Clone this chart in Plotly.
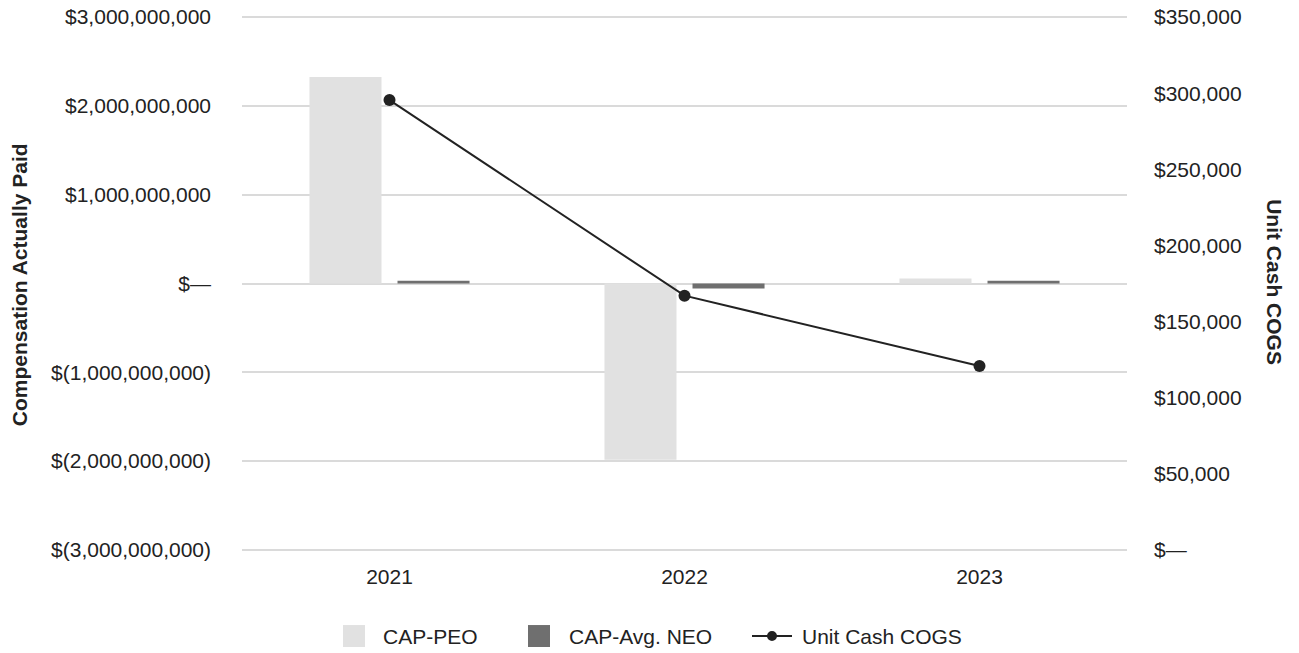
import plotly.graph_objects as go

# Fiscal years and series values
years = ["2021", "2022", "2023"]
cap_peo = [2.325e9, -1.985e9, 0.055e9]
cap_avg_neo = [0.03e9, -0.055e9, 0.03e9]
unit_cash_cogs = [295500, 167000, 120800]

left_ticks = [3e9, 2e9, 1e9, 0, -1e9, -2e9, -3e9]
left_labels = ["$3,000,000,000", "$2,000,000,000", "$1,000,000,000", "$\u2014",
               "$(1,000,000,000)", "$(2,000,000,000)", "$(3,000,000,000)"]
right_ticks = [350000, 300000, 250000, 200000, 150000, 100000, 50000, 0]
right_labels = ["$350,000", "$300,000", "$250,000", "$200,000", "$150,000",
                "$100,000", "$50,000", "$\u2014"]

PEO_COLOR = "#e1e1e1"
NEO_COLOR = "#6f6f6f"
LINE_COLOR = "#222222"
GRID_COLOR = "#dadada"
TEXT_COLOR = "#222222"
FONT = "Liberation Sans, Arial, Helvetica, sans-serif"
TICK_SIZE = 21
TITLE_SIZE = 21

W, H = 1299, 653
# plot area edges (pixels); the value ranges are padded slightly so that the
# outermost gridlines are drawn inside the plotting area
X0, X1, Y0, Y1 = 242, 1127, 16.8, 549.8
PAD = 0.004
span = Y1 - Y0
T = Y0 - PAD * span
B = H - (Y1 + PAD * span)
L, R = X0, W - X1
PW, PH = W - L - R, H - T - B


def px(x):
    return (x - L) / PW


def py(y):
    return (H - B - y) / PH


fig = go.Figure()
fig.add_trace(go.Bar(x=years, y=cap_peo, name="CAP-PEO", marker_color=PEO_COLOR,
                     marker_line_width=0))
fig.add_trace(go.Bar(x=years, y=cap_avg_neo, name="CAP-Avg. NEO", marker_color=NEO_COLOR,
                     marker_line_width=0))
fig.add_trace(go.Scatter(x=years, y=unit_cash_cogs, name="Unit Cash COGS", yaxis="y2",
                         mode="lines+markers",
                         line=dict(color=LINE_COLOR, width=2),
                         marker=dict(color=LINE_COLOR, size=12)))

# Legend drawn as shapes and text below the plot
shapes = []
annotations = []
legend_y = 636
sw = 22
for x0, color, label, tx in [(343, PEO_COLOR, "CAP-PEO", 381),
                             (528, NEO_COLOR, "CAP-Avg. NEO", 567)]:
    shapes.append(dict(type="rect", xref="paper", yref="paper",
                       x0=px(x0), x1=px(x0 + sw), y0=py(legend_y + sw / 2), y1=py(legend_y - sw / 2),
                       fillcolor=color, line_width=0))
    annotations.append(dict(text=label, xref="paper", yref="paper", x=px(tx), y=py(legend_y),
                            xanchor="left", yanchor="middle", showarrow=False,
                            font=dict(size=TICK_SIZE, color=TEXT_COLOR, family=FONT)))
shapes.append(dict(type="line", xref="paper", yref="paper",
                   x0=px(752), x1=px(792), y0=py(legend_y), y1=py(legend_y),
                   line=dict(color=LINE_COLOR, width=2)))
shapes.append(dict(type="circle", xref="paper", yref="paper",
                   x0=px(767), x1=px(777), y0=py(legend_y + 5), y1=py(legend_y - 5),
                   fillcolor=LINE_COLOR, line_width=0))
annotations.append(dict(text="Unit Cash COGS", xref="paper", yref="paper", x=px(800), y=py(legend_y),
                        xanchor="left", yanchor="middle", showarrow=False,
                        font=dict(size=TICK_SIZE, color=TEXT_COLOR, family=FONT)))

# Axis titles
annotations.append(dict(text="<b>Compensation Actually Paid</b>", xref="paper", yref="paper",
                        x=px(19), y=py(285), textangle=-90, showarrow=False,
                        xanchor="center", yanchor="middle",
                        font=dict(size=TITLE_SIZE, color=TEXT_COLOR, family=FONT)))
annotations.append(dict(text="<b>Unit Cash COGS</b>", xref="paper", yref="paper",
                        x=px(1275), y=py(282), textangle=90, showarrow=False,
                        xanchor="center", yanchor="middle",
                        font=dict(size=TITLE_SIZE, color=TEXT_COLOR, family=FONT)))

fig.update_layout(
    width=W, height=H,
    margin=dict(l=L, r=R, t=T, b=B, pad=0, autoexpand=False),
    paper_bgcolor="white", plot_bgcolor="white",
    barmode="group", bargap=0.403, bargroupgap=0.182,
    showlegend=False,
    font=dict(family=FONT, size=TICK_SIZE, color=TEXT_COLOR),
    xaxis=dict(showgrid=False, showline=False, ticks="", ticklabelstandoff=10,
               automargin=False, tickfont=dict(size=TICK_SIZE, color=TEXT_COLOR)),
    yaxis=dict(range=[-3e9 * (1 + PAD / 0.5), 3e9 * (1 + PAD / 0.5)],
               tickvals=left_ticks, ticktext=left_labels,
               showgrid=True, gridcolor=GRID_COLOR, gridwidth=1.5,
               zeroline=True, zerolinecolor=GRID_COLOR, zerolinewidth=1.5,
               showline=False, ticks="", ticklabelstandoff=30, automargin=False,
               tickfont=dict(size=TICK_SIZE, color=TEXT_COLOR)),
    yaxis2=dict(range=[-350000 * PAD, 350000 * (1 + PAD)],
                tickvals=right_ticks, ticktext=right_labels,
                overlaying="y", side="right", showgrid=False, zeroline=False,
                showline=False, ticks="", ticklabelstandoff=26, automargin=False,
                tickfont=dict(size=TICK_SIZE, color=TEXT_COLOR)),
    shapes=shapes,
    annotations=annotations,
)

fig.write_html("out.html")
